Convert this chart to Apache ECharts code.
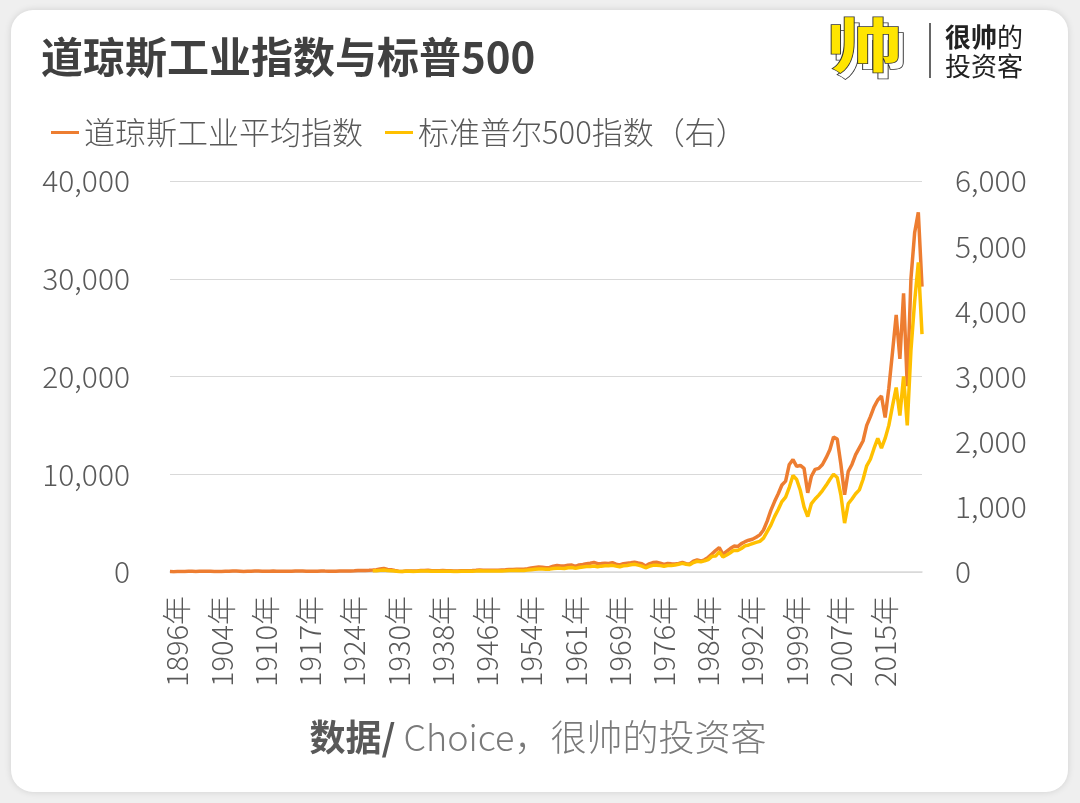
<!DOCTYPE html>
<html>
<head>
<meta charset="utf-8">
<script src="https://cdn.jsdelivr.net/npm/echarts@6/dist/echarts.min.js"></script>
<style>
html,body{margin:0;padding:0;}
body{width:1080px;height:803px;background:#efefef;position:relative;overflow:hidden;}
#card{position:absolute;left:11px;top:10px;width:1057px;height:782px;background:#fff;border-radius:22px;box-shadow:0 0 7px rgba(0,0,0,0.13);}
#chart{position:absolute;left:0;top:0;width:1080px;height:803px;}
</style>
</head>
<body>
<div id="card"></div>
<div id="chart"></div>
<script>
// x-axis tick labels (shown every 12 points)
const labelYears = [1896,1904,1910,1917,1924,1930,1938,1946,1954,1961,1969,1976,1984,1992,1999,2007,2015];
const endYear = 2022;

// 道琼斯工业平均指数 (left axis)
const dowValues = [
  40,30,45,45,55,75,65,55,70,75,
  65,65,55,45,55,70,85,100,90,80,
  55,70,85,98,95,78,85,80,90,84,
  78,80,71,65,95,90,98,85,78,82,
  85,110,90,75,68,85,100,97,95,98,
  120,145,150,160,175,200,230,310,370,260,
  230,150,75,60,95,100,95,115,145,165,
  180,125,135,140,150,120,125,115,100,125,
  140,140,152,175,200,170,180,180,180,170,
  200,220,250,265,275,270,280,340,420,470,
  500,480,440,460,590,660,620,610,700,710,
  570,720,770,840,890,980,850,870,900,880,
  950,800,720,850,900,940,1000,920,850,620,
  830,970,990,910,780,880,850,830,880,980,
  850,820,1100,1230,1120,1250,1500,1850,2200,2500,
  1800,2100,2400,2650,2600,2900,3100,3250,3350,3550,
  3800,4300,5200,6300,7200,8000,8900,9300,11000,11500,
  10800,10900,10600,8100,9800,10500,10600,11000,11700,12500,
  13800,13600,11000,7900,10300,11000,12000,12700,13400,15000,
  15900,16900,17600,18000,15800,18800,22500,26300,21800,28500,
  19000,30000,34700,36800,29200
];

// 标准普尔500指数 (right axis), starts later
const spxValues = [
  null,null,null,null,null,null,null,null,null,null,
  null,null,null,null,null,null,null,null,null,null,
  null,null,null,null,null,null,null,null,null,null,
  null,null,null,null,null,null,null,null,null,null,
  null,null,null,null,null,null,null,null,null,null,
  null,null,null,null,null,18,20,25,30,22,
  20,14,7,6,10,10,9,10,14,15,
  17,11,12,12,12,10,10,9,8,11,
  12,12,13,15,18,15,15,15,16,15,
  17,19,22,24,25,24,24,29,36,42,
  46,45,42,44,55,59,56,55,66,70,
  56,68,78,84,86,93,80,90,95,95,
  102,90,80,95,100,110,118,105,90,65,
  88,102,105,98,88,100,100,108,120,132,
  120,112,145,165,155,170,190,240,245,310,
  230,260,295,335,330,360,400,415,435,455,
  470,520,620,720,850,960,1080,1150,1300,1480,
  1420,1250,1000,850,1050,1120,1180,1250,1330,1420,
  1500,1450,1180,750,1050,1120,1200,1260,1420,1630,
  1730,1900,2050,1900,2050,2250,2550,2830,2400,3000,
  2250,3400,4150,4750,3650
];

const seriesNames = ['道琼斯工业平均指数', '标准普尔500指数（右）'];

// category names (approximate periods) derived from the tick labels
const perLabel = 12, firstLabelIdx = 2;
const categories = dowValues.map((_, i) => {
  let k = Math.floor((i - firstLabelIdx) / perLabel);
  let j = i - firstLabelIdx - k * perLabel;
  if (k < 0) { k = 0; j = i - firstLabelIdx; }
  const span = k < labelYears.length - 1 ? labelYears[k + 1] - labelYears[k] : endYear - labelYears[k];
  const t = labelYears[k] + j * span / perLabel;
  let yr = Math.floor(t + 1e-9);
  let mo = Math.round((t - yr) * 12) + 1;
  if (mo > 12) { mo = 12; }
  return yr + '年' + String(mo).padStart(2, '0') + '月';
});

const FONT = '"Noto Sans CJK SC", "Noto Sans", sans-serif';
const fmt = v => Number(v).toLocaleString('en-US');

const chart = echarts.init(document.getElementById('chart'), null, {renderer: 'canvas'});
chart.setOption({
  backgroundColor: 'transparent',
  animation: false,
  textStyle: {fontFamily: FONT},
  grid: {left: 170, right: 158, top: 181, bottom: 231, containLabel: false},
  legend: {
    data: seriesNames,
    left: 46, top: 112,
    icon: 'rect', itemWidth: 28, itemHeight: 3, itemGap: 22,
    textStyle: {fontSize: 31, color: '#595959', fontWeight: 300, fontFamily: FONT}
  },
  xAxis: {
    type: 'category',
    data: categories,
    boundaryGap: false,
    axisLine: {lineStyle: {color: '#d9d9d9', width: 1.5}},
    axisTick: {show: false},
    axisLabel: {
      rotate: 90,
      margin: 24,
      fontSize: 29,
      fontWeight: 300,
      color: '#595959',
      fontFamily: FONT,
      interval: (idx) => idx >= firstLabelIdx && (idx - firstLabelIdx) % perLabel === 0,
      formatter: v => v.slice(0, 5)
    },
    splitLine: {show: false}
  },
  yAxis: [
    {
      type: 'value', min: 0, max: 40000, interval: 10000, position: 'left',
      axisLine: {show: false}, axisTick: {show: false},
      axisLabel: {fontSize: 30, fontWeight: 300, color: '#595959', margin: 40, formatter: fmt, fontFamily: FONT},
      splitLine: {lineStyle: {color: '#d9d9d9', width: 1.2}}
    },
    {
      type: 'value', min: 0, max: 6000, interval: 1000, position: 'right',
      axisLine: {show: false}, axisTick: {show: false},
      axisLabel: {fontSize: 30, fontWeight: 300, color: '#595959', margin: 33, formatter: fmt, fontFamily: FONT},
      splitLine: {show: false}
    }
  ],
  series: [
    {
      name: seriesNames[0], type: 'line', yAxisIndex: 0, data: dowValues,
      showSymbol: false, symbol: 'none',
      lineStyle: {color: '#ED7D31', width: 3.5}, itemStyle: {color: '#ED7D31'}
    },
    {
      name: seriesNames[1], type: 'line', yAxisIndex: 1, data: spxValues,
      showSymbol: false, symbol: 'none', connectNulls: false,
      lineStyle: {color: '#FFC000', width: 3.5}, itemStyle: {color: '#FFC000'}
    }
  ],
  graphic: [
    {type: 'text', left: 41, top: 36, style: {text: '道琼斯工业指数与标普500', font: 'bold 42px ' + FONT, fill: '#404040'}},
    // logo mark
    {type: 'text', x: 832, y: 22, scaleX: 1.3, style: {text: '帅', font: 'bold 58px ' + FONT, fill: '#ffffff', stroke: '#333', lineWidth: 1.5}},
    {type: 'text', x: 827, y: 16, scaleX: 1.3, style: {text: '帅', font: 'bold 58px ' + FONT, fill: '#FFE500', stroke: '#333', lineWidth: 1.5}},
    {type: 'line', shape: {x1: 930, y1: 23, x2: 930, y2: 78}, style: {stroke: '#333', lineWidth: 1.5}},
    {type: 'text', x: 945, y: 37, style: {
      text: '{b|很帅}{r|的}', verticalAlign: 'middle',
      rich: {b: {font: 'bold 26px ' + FONT, fill: '#222'}, r: {font: '26px ' + FONT, fill: '#222'}}
    }},
    {type: 'text', x: 945, y: 66, style: {text: '投资客', font: '26px ' + FONT, fill: '#222', verticalAlign: 'middle'}},
    // footer
    {type: 'text', x: 538, y: 737, style: {
      text: '{b|数据/}{r| Choice，很帅的投资客}', align: 'center', verticalAlign: 'middle',
      rich: {b: {font: 'bold 36px ' + FONT, fill: '#595959'}, r: {font: '300 36px ' + FONT, fill: '#7a7a7a'}}
    }}
  ]
});
</script>
</body>
</html>
